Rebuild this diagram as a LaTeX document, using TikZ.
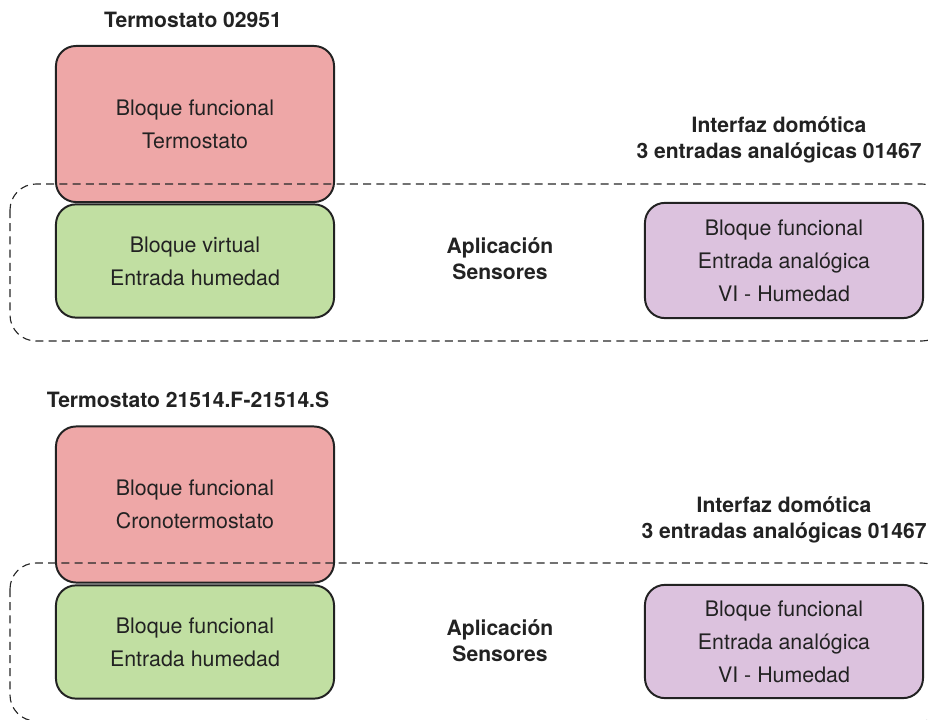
\documentclass[tikz,border=0pt]{standalone}
\usepackage{fontspec}
\setmainfont{TeX Gyre Heros}
\usepackage{tikz}
\usetikzlibrary{positioning}

\definecolor{rojo}{HTML}{EEA7A7}
\definecolor{verde}{HTML}{C1DFA2}
\definecolor{morado}{HTML}{DCC2DE}
\definecolor{linea}{HTML}{222222}

\tikzset{
  bloque/.style={draw=linea, line width=1.4pt, rounded corners=0.5cm,
    minimum width=6.95cm, align=center, text=linea,
    font=\fontsize{15.2}{23.5}\selectfont},
  titulo/.style={align=center, text=linea,
    font=\fontsize{15}{18.5}\selectfont\bfseries},
  grupo/.style={draw=black!85, line width=0.8pt, rounded corners=0.65cm,
    dash pattern=on 0.2cm off 0.13cm},
}

\begin{document}
\begin{tikzpicture}[x=0.025cm, y=-0.025cm]
  \clip (0,0) rectangle (928,720);
  % primer termostato
  \node[titulo] (tit1) at (193,20) {Termostato 02951};
  \node[bloque, fill=rojo, minimum height=3.9cm] (ter1) at (195,124) {Bloque funcional\\Termostato};
  \node[bloque, fill=verde, minimum height=2.83cm] (hum1) at (195,261) {Bloque virtual\\Entrada humedad};
  \node[titulo] (int1) at (779,140) {Interfaz domótica\\3 entradas analógicas 01467};
  \node[bloque, fill=morado, minimum height=2.88cm] (vi1) at (784,260.5) {Bloque funcional\\Entrada analógica\\VI - Humedad};
  \node[titulo] (app1) at (500,258.5) {Aplicación\\Sensores};
  \draw[grupo] (10,184) rectangle (948,341);

  % segundo termostato
  \node[titulo] (tit2) at (188,400) {Termostato 21514.F-21514.S};
  \node[bloque, fill=rojo, minimum height=3.9cm] (ter2) at (195,504.5) {Bloque funcional\\Cronotermostato};
  \node[bloque, fill=verde, minimum height=2.83cm] (hum2) at (195,642) {Bloque funcional\\Entrada humedad};
  \node[titulo] (int2) at (784,519.5) {Interfaz domótica\\3 entradas analógicas 01467};
  \node[bloque, fill=morado, minimum height=2.83cm] (vi2) at (784,641.5) {Bloque funcional\\Entrada analógica\\VI - Humedad};
  \node[titulo] (app2) at (500,641) {Aplicación\\Sensores};
  \draw[grupo] (10,563) rectangle (948,721);
\end{tikzpicture}
\end{document}
